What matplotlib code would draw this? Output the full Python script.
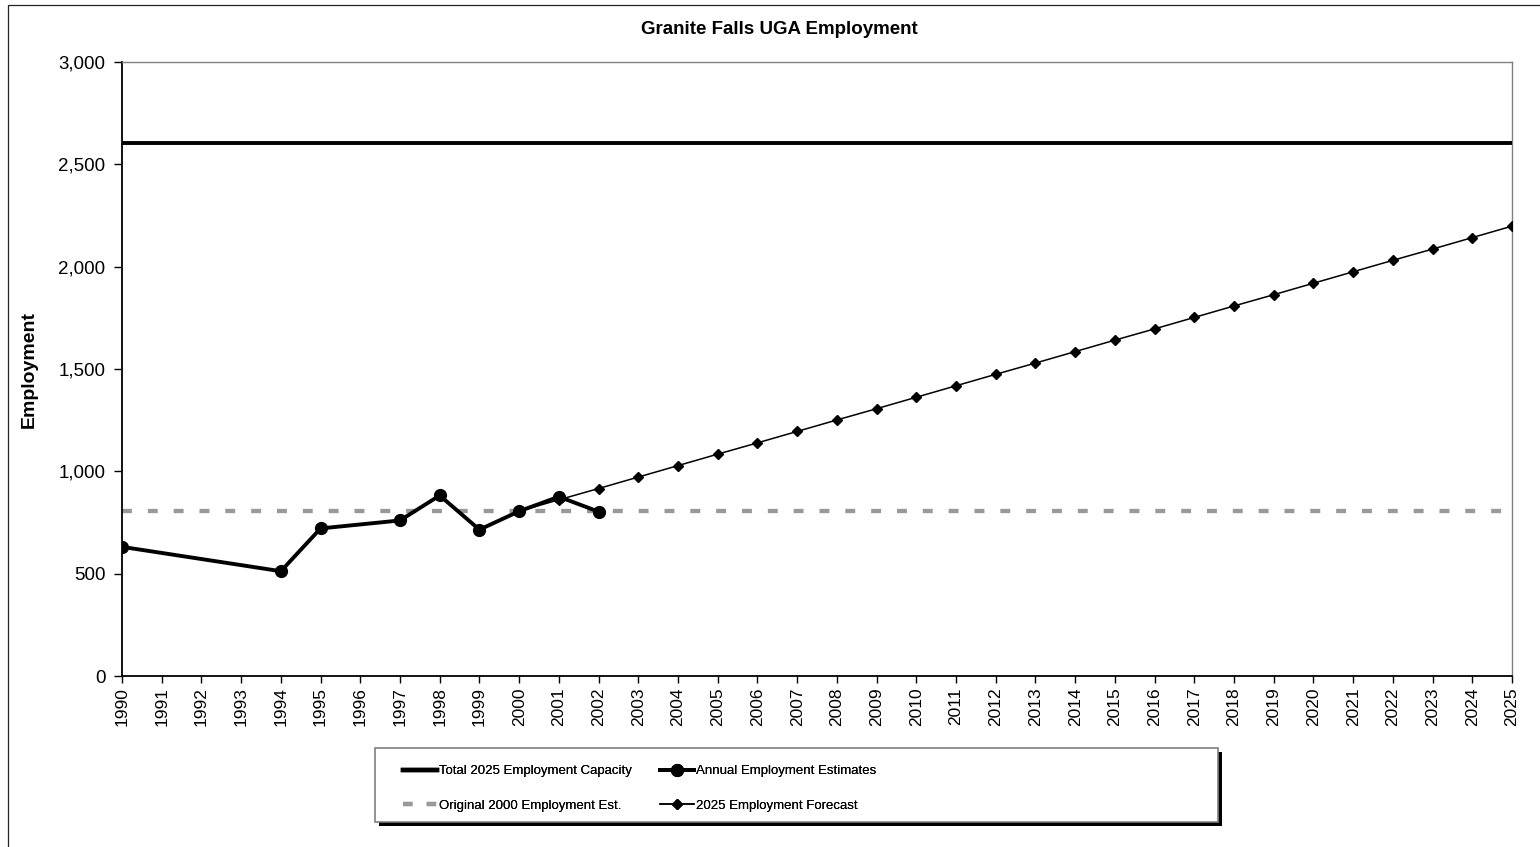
import matplotlib
matplotlib.use("Agg")
import matplotlib.pyplot as plt
from matplotlib.patches import Rectangle
from matplotlib.lines import Line2D
from matplotlib.ticker import FuncFormatter

plt.rcParams['font.family'] = ['Liberation Sans', 'DejaVu Sans']

# employment data
years = list(range(1990, 2026))
capacity_2025 = 2602
original_2000_est = 805

est_years = [1990, 1994, 1995, 1997, 1998, 1999, 2000, 2001, 2002]
est_values = [631, 512, 721, 760, 882, 715, 805, 876, 803]

fc_years = list(range(2000, 2026))
fc_values = [805, 861, 916, 972, 1028, 1084, 1139, 1195, 1251, 1306,
             1362, 1418, 1474, 1529, 1585, 1641, 1696, 1752, 1808, 1863,
             1919, 1975, 2031, 2086, 2142, 2198]

W, H = 1540, 847
fig = plt.figure(figsize=(W / 100, H / 100), dpi=100)

# chart area border (only top and left edges fall inside the image)
fig.patches.append(Rectangle((8 / W, -0.2), 1.2, 1.2 - 5 / H, transform=fig.transFigure,
                             fill=False, edgecolor='#222222', lw=0.9, clip_on=False))

ax = fig.add_axes([122 / W, (H - 676) / H, 1390 / W, 614 / H])

ax.plot([years[0], years[-1]], [capacity_2025, capacity_2025], color='black', lw=2.8,
        solid_capstyle='butt', zorder=3)
ax.plot([years[0], years[-1]], [original_2000_est, original_2000_est], color='#999999',
        lw=3.1, linestyle=(0, (2.3, 3.7)), zorder=2)
ax.plot(fc_years, fc_values, color='black', lw=1.1, marker='D', markersize=5.5, zorder=4)
ax.plot(est_years, est_values, color='black', lw=2.8, marker='o', markersize=8.5, zorder=5)

ax.set_xlim(1990, 2025)
ax.set_ylim(0, 3000)
ax.set_xticks(years)
ax.set_xticklabels([str(y) for y in years], rotation=90, fontsize=12.5)
ax.set_yticks(range(0, 3001, 500))
ax.yaxis.set_major_formatter(FuncFormatter(lambda v, p: f"{int(v):,}"))
ax.tick_params(axis='y', direction='out', length=6, width=1, labelsize=13.5, pad=6)
ax.tick_params(axis='x', direction='out', length=5, width=1, pad=3)

for side in ('top', 'right'):
    ax.spines[side].set_color('#808080')
    ax.spines[side].set_linewidth(1)
for side in ('left', 'bottom'):
    ax.spines[side].set_color('black')
    ax.spines[side].set_linewidth(1.3)

ax.set_ylabel('Employment', fontsize=14, fontweight='bold')
ax.yaxis.set_label_coords((38 - 122) / 1390, 0.5)

fig.text(779 / W, 1 - 30 / H, 'Granite Falls UGA Employment', ha='center', va='center',
         fontsize=13.5, fontweight='bold')

# legend box with drop shadow
lx, ly, lw_, lh = 375, 748, 843, 74
fig.patches.append(Rectangle(((lx + 4) / W, (H - ly - lh - 4) / H), lw_ / W, lh / H,
                             transform=fig.transFigure, facecolor='black', edgecolor='none'))
fig.patches.append(Rectangle((lx / W, (H - ly - lh) / H), lw_ / W, lh / H,
                             transform=fig.transFigure, facecolor='white', edgecolor='#808080', lw=1.2))

col1 = [Line2D([], [], color='black', lw=3.2),
        Line2D([], [], color='#999999', lw=3.1, linestyle=(0, (2.2, 3.3)))]
col2 = [Line2D([], [], color='black', lw=2.8, marker='o', markersize=8.5),
        Line2D([], [], color='black', lw=1.1, marker='D', markersize=5.5)]
labels1 = ['Total 2025 Employment Capacity', 'Original 2000 Employment Est.']
labels2 = ['Annual Employment Estimates', '2025 Employment Forecast']

yc = (H - 788.5) / H
for hs, ls, x0 in ((col1, labels1, 403), (col2, labels2, 660)):
    lg = fig.legend(hs, ls, loc='center left', bbox_to_anchor=(x0 / W, yc), frameon=False,
                    fontsize=9.5, handlelength=2.6, handletextpad=0.15,
                    labelspacing=1.7, borderpad=0, borderaxespad=0)
    fig.add_artist(lg)

fig.savefig('out.png', dpi=100)
